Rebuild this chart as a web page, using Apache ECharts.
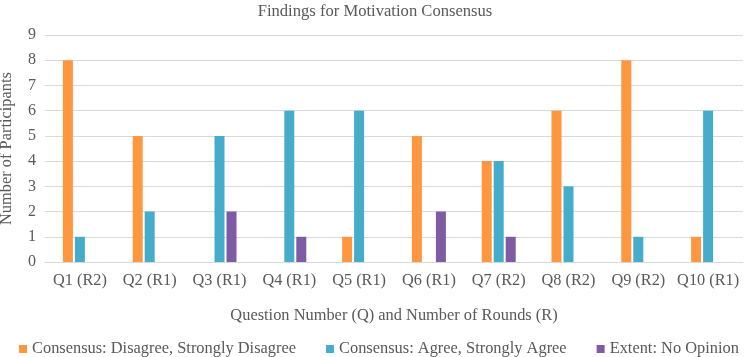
<!DOCTYPE html>
<html>
<head>
<meta charset="utf-8">
<script src="https://cdn.jsdelivr.net/npm/echarts@6/dist/echarts.min.js"></script>
<style>
  html, body { margin: 0; padding: 0; background: #fff; }
  #chart { width: 750px; height: 357px; }
</style>
</head>
<body>
<div id="chart"></div>
<script>
// Findings for Motivation Consensus - clustered bars, 3 series
const categories = ['Q1 (R2)', 'Q2 (R1)', 'Q3 (R1)', 'Q4 (R1)', 'Q5 (R1)',
    'Q6 (R1)', 'Q7 (R2)', 'Q8 (R2)', 'Q9 (R2)', 'Q10 (R1)'];
const disagree = [8, 5, '-', '-', 1, 5, 4, 6, 8, 1];
const agree = [1, 2, 5, 6, 6, '-', 4, 3, 1, 6];
const noOpinion = ['-', '-', 2, 1, '-', 2, 1, '-', '-', '-'];
const yTicks = [0, 9, 1]; // min, max, interval

const font = 'Liberation Serif';
const textColor = '#595959';

const bar = (name, data, color) => ({
    name: name,
    type: 'bar',
    data: data,
    barWidth: 10,
    barGap: '20%',
    itemStyle: {color: color}
});

const option = {
    animation: false,
    textStyle: {fontFamily: font, color: textColor},
    title: {
        text: 'Findings for Motivation Consensus',
        left: 'center',
        top: -2,
        textStyle: {fontFamily: font, fontWeight: 'normal', fontSize: 16.6, color: textColor}
    },
    legend: {
        left: 14,
        top: 336,
        itemWidth: 8,
        itemHeight: 8,
        itemGap: 30,
        icon: 'rect',
        textStyle: {fontFamily: font, fontSize: 16.4, color: textColor}
    },
    grid: {left: 45, right: 7, top: 35, bottom: 95, outerBoundsMode: 'none'},
    xAxis: {
        type: 'category',
        data: categories,
        name: 'Question Number (Q) and Number of Rounds (R)',
        nameLocation: 'middle',
        nameGap: 46,
        nameTextStyle: {fontFamily: font, fontSize: 16.4, color: textColor},
        axisLine: {lineStyle: {color: '#D9D9D9'}},
        axisTick: {show: false},
        axisLabel: {interval: 0, fontFamily: font, fontSize: 16.3, color: textColor, margin: 11}
    },
    yAxis: {
        type: 'value',
        min: yTicks[0],
        max: yTicks[1],
        interval: yTicks[2],
        name: 'Number of Participants',
        nameLocation: 'middle',
        nameGap: 30,
        nameTextStyle: {fontFamily: font, fontSize: 16.4, color: textColor},
        axisLine: {show: false},
        axisTick: {show: false},
        axisLabel: {fontFamily: font, fontSize: 16, color: textColor, margin: 9},
        splitLine: {lineStyle: {color: '#D9D9D9'}}
    },
    series: [
        bar('Consensus: Disagree, Strongly Disagree', disagree, '#FF9640'),
        bar('Consensus: Agree, Strongly Agree', agree, '#45ADCA'),
        bar('Extent: No Opinion', noOpinion, '#7F5BA3')
    ]
};

const chart = echarts.init(document.getElementById('chart'));
chart.setOption(option);
</script>
</body>
</html>
